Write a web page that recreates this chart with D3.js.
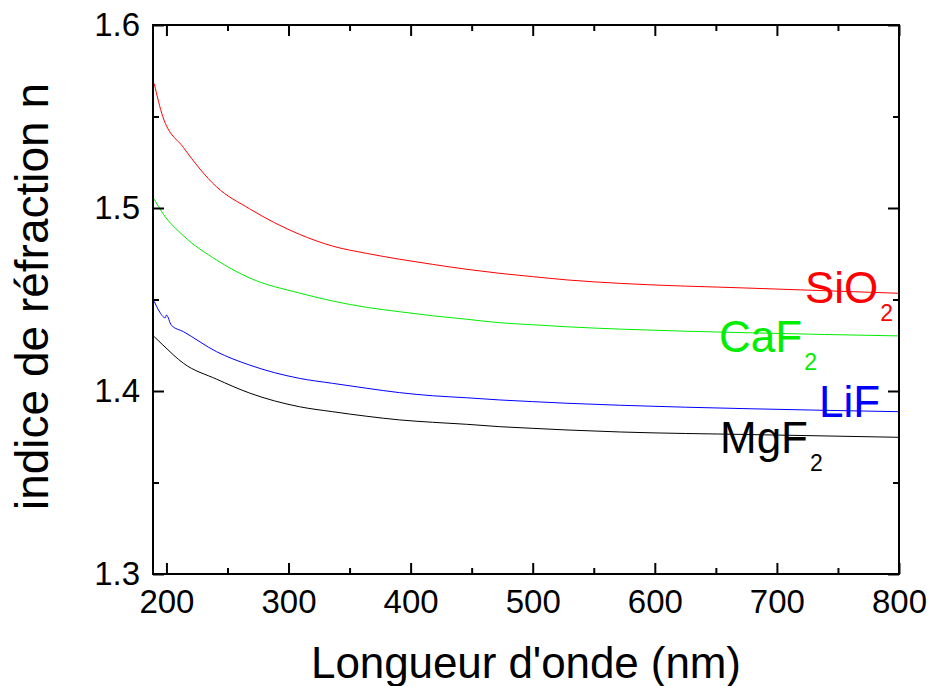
<!DOCTYPE html>
<html><head><meta charset="utf-8">
<script src="https://cdn.jsdelivr.net/npm/d3@7"></script>
<style>
html,body{margin:0;padding:0;background:#fff;}
text{font-family:"Liberation Sans",Arial,sans-serif;}
</style></head>
<body>
<svg id="chart" width="929" height="686"></svg>
<script>
// ---- data ----
const gridWl = [190, 197, 214, 241, 268, 309, 336, 364, 391, 418, 446, 473, 500, 528, 572, 678, 800];
const sio2N  = [1.568, 1.550, 1.533, 1.5116, 1.4996, 1.4856, 1.4792, 1.4752, 1.472, 1.4692, 1.4665, 1.4643, 1.4625, 1.4607, 1.4588, 1.4562, 1.4534];
const caf2N  = [1.5048, 1.4971, 1.4848, 1.4716, 1.4618, 1.4535, 1.4492, 1.4457, 1.4433, 1.4411, 1.4392, 1.4373, 1.4362, 1.4351, 1.4338, 1.4318, 1.4301];
const mgf2N  = [1.4297, 1.4252, 1.4151, 1.4065, 1.3989, 1.3914, 1.3887, 1.3862, 1.3842, 1.3829, 1.3818, 1.3805, 1.3796, 1.3787, 1.3776, 1.3762, 1.3747];
const lifWl  = [190, 194, 199, 200, 204, 214, 241, 268, 309, 336, 364, 391, 418, 446, 473, 500, 528, 572, 678, 800];
const lifN   = [1.449, 1.4437, 1.4400, 1.4415, 1.4360, 1.4324, 1.4215, 1.4142, 1.4069, 1.4042, 1.4015, 1.3991, 1.3974, 1.3963, 1.3951, 1.3942, 1.3933, 1.3922, 1.3903, 1.3887];
const xMajor = [200, 300, 400, 500, 600, 700, 800];
const xMinor = [250, 350, 450, 550, 650, 750];
const yMajor = [1.3, 1.4, 1.5, 1.6];
const yMinor = [1.35, 1.45, 1.55];
const xTitle = "Longueur d'onde (nm)";
const yTitle = "indice de réfraction n";

const series = [
  {name:"SiO", sub:"2", color:"#ff0000", wl:gridWl, n:sio2N, lx:805, ly:303},
  {name:"CaF", sub:"2", color:"#00ee00", wl:gridWl, n:caf2N, lx:719, ly:352},
  {name:"LiF", sub:"",  color:"#0000ff", wl:lifWl,  n:lifN,  lx:819, ly:417},
  {name:"MgF", sub:"2", color:"#000000", wl:gridWl, n:mgf2N, lx:720, ly:453}
];

// ---- layout ----
const L = 153, R = 899, T = 25, B = 574;
const svg = d3.select("#chart");
const x = d3.scaleLinear().domain([189, 800]).range([L, R]);
const y = d3.scaleLinear().domain([1.3, 1.6]).range([B, T]);

// curves
const line = d3.line().x(d => x(d[0])).y(d => y(d[1])).curve(d3.curveMonotoneX);
series.forEach(s => {
  const pts = s.wl.map((w, i) => [w, s.n[i]]);
  svg.append("path").attr("d", line(pts)).attr("fill", "none")
    .attr("stroke", s.color).attr("stroke-width", 1);
});

// axes (ticks inward, mirrored)
function ax(gen, tr, vals, size, fmt) {
  const g = svg.append("g").attr("transform", tr)
    .call(gen.tickValues(vals).tickSize(size).tickPadding(6).tickFormat(fmt));
  g.select(".domain").remove();
  g.selectAll(".tick line").attr("stroke", "#000").attr("stroke-width", 2);
  return g;
}
const none = () => "";
const gx = ax(d3.axisBottom(x), `translate(0,${B})`, xMajor, -11, d3.format("d"));
gx.selectAll(".tick text").attr("font-size", 33).attr("fill", "#000").attr("y", 16).attr("dy", "0.71em");
ax(d3.axisBottom(x), `translate(0,${B})`, xMinor, -6, none);
ax(d3.axisTop(x), `translate(0,${T})`, xMajor, -11, none);
ax(d3.axisTop(x), `translate(0,${T})`, xMinor, -6, none);
const gy = ax(d3.axisLeft(y), `translate(${L},0)`, yMajor, -11, d3.format(".1f"));
gy.selectAll(".tick text").attr("font-size", 33).attr("fill", "#000").attr("x", -13);
ax(d3.axisLeft(y), `translate(${L},0)`, yMinor, -6, none);
ax(d3.axisRight(y), `translate(${R},0)`, yMajor, -11, none);
ax(d3.axisRight(y), `translate(${R},0)`, yMinor, -6, none);

// frame
svg.append("rect").attr("x", L).attr("y", T).attr("width", R - L).attr("height", B - T)
  .attr("fill", "none").attr("stroke", "#000").attr("stroke-width", 2);

// labels
series.forEach(s => {
  const t = svg.append("text").attr("x", s.lx).attr("y", s.ly)
    .attr("fill", s.color).attr("font-size", 44).text(s.name);
  if (s.sub) t.append("tspan").attr("font-size", 23).attr("dy", 18).attr("dx", 2).text(s.sub);
});

// axis titles
svg.append("text").attr("x", 311).attr("y", 678)
  .attr("font-size", 44).attr("fill", "#000").attr("textLength", 430).text(xTitle);
svg.append("text").attr("transform", `translate(48,${(T + B) / 2 - 3}) rotate(-90)`)
  .attr("text-anchor", "middle").attr("font-size", 46).attr("fill", "#000").text(yTitle);
</script>
</body></html>
